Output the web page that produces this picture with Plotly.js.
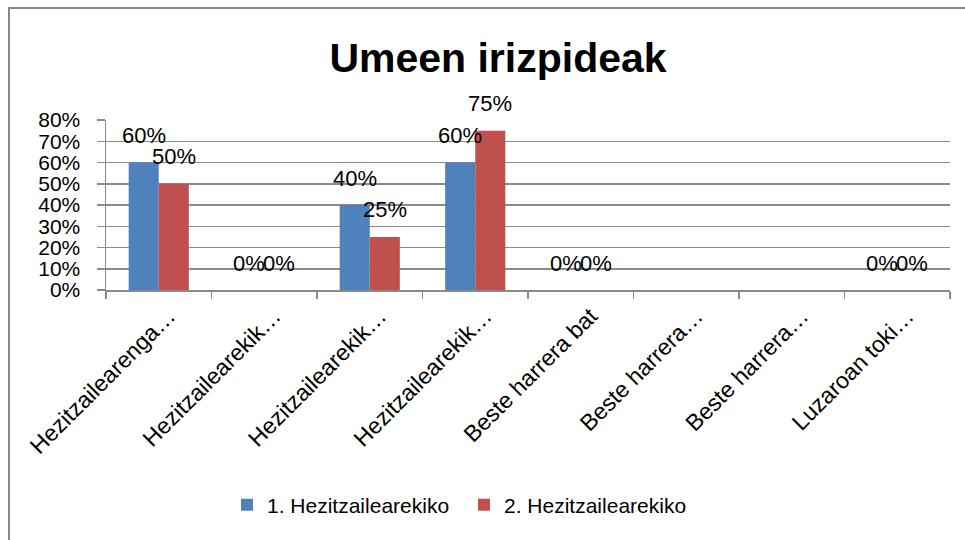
<!DOCTYPE html>
<html>
<head>
<meta charset="utf-8">
<script src="https://cdn.plot.ly/plotly-3.0.1.min.js"></script>
<style>
  html, body { margin: 0; padding: 0; background: #fff; }
  #wrap { position: relative; width: 965px; height: 540px; overflow: hidden; }
  #chart { position: absolute; left: 0; top: 0; width: 965px; height: 540px; }
  #frame { position: absolute; left: 8px; top: 7px; width: 980px; height: 560px;
           border-left: 2px solid #868686; border-top: 2px solid #868686; pointer-events: none; }
</style>
</head>
<body>
<div id="wrap">
  <div id="chart"></div>
  <div id="frame"></div>
</div>
<script>
// ---- data ----
const categories = [
  "Hezitzailearenga\u2026",
  "Hezitzailearekik\u2026",
  "Hezitzailearekik\u2026",
  "Hezitzailearekik\u2026",
  "Beste harrera bat",
  "Beste harrera\u2026",
  "Beste harrera\u2026",
  "Luzaroan toki\u2026"
];
const seriesNames = ["1. Hezitzailearekiko", "2. Hezitzailearekiko"];
const series1 = [0.60, 0, 0.40, 0.60, 0, null, null, 0];
const series2 = [0.50, 0, 0.25, 0.75, 0, null, null, 0];
const colors = ["#4F81BD", "#C0504D"];

// ---- chart ----
const FONT = "Liberation Sans, Arial, sans-serif";
const GRID = "#8a8a8a";
const idx = categories.map((_, i) => i);
const bargap = 0.43;
const half = (1 - bargap) / 4;

const traces = [series1, series2].map((vals, s) => ({
  type: "bar",
  name: seriesNames[s],
  x: idx,
  y: vals,
  marker: { color: colors[s] },
  hoverinfo: "skip"
}));

const annotations = [];
[series1, series2].forEach((vals, s) => {
  vals.forEach((v, i) => {
    if (v === null) return;
    annotations.push({
      x: i + (s === 0 ? -half : half),
      y: v,
      xref: "x", yref: "y",
      text: Math.round(v * 100) + "%",
      showarrow: false,
      xanchor: "center", yanchor: "middle",
      yshift: 27,
      font: { family: FONT, size: 22, color: "#000" }
    });
  });
});

const layout = {
  width: 965, height: 540,
  margin: { l: 106, r: 15, t: 120, b: 250 },
  paper_bgcolor: "rgba(0,0,0,0)",
  plot_bgcolor: "rgba(0,0,0,0)",
  barmode: "group",
  bargap: bargap,
  bargroupgap: 0,
  title: {
    text: "<b>Umeen irizpideak</b>",
    font: { family: FONT, size: 41, color: "#000" },
    x: 498 / 965, xanchor: "center",
    y: 1 - 58 / 540, yanchor: "middle"
  },
  xaxis: {
    range: [-0.5, 7.5],
    tickmode: "array",
    tickvals: idx,
    ticktext: categories,
    tickangle: -45,
    ticks: "",
    ticklabelshift: 10,
    ticklabelstandoff: 2,
    tickfont: { family: FONT, size: 23, color: "#000" },
    showgrid: false,
    zeroline: false,
    showline: true,
    linecolor: GRID,
    linewidth: 1.5,
    minor: {
      tickmode: "linear", tick0: -0.5, dtick: 1,
      ticks: "outside", ticklen: 7, tickwidth: 1.5, tickcolor: GRID,
      showgrid: false
    },
    fixedrange: true
  },
  yaxis: {
    range: [0, 0.8],
    dtick: 0.1,
    tickformat: ".0%",
    ticks: "outside",
    ticklen: 8,
    tickwidth: 1.5,
    tickcolor: GRID,
    ticklabelstandoff: 12,
    tickfont: { family: FONT, size: 21, color: "#000" },
    showgrid: true,
    gridcolor: GRID,
    gridwidth: 1.5,
    zeroline: false,
    showline: true,
    linecolor: GRID,
    linewidth: 1.5,
    fixedrange: true
  },
  legend: {
    orientation: "h",
    xref: "container", yref: "container",
    x: 464 / 965, xanchor: "center",
    y: 1 - 505 / 540, yanchor: "middle",
    entrywidth: 192, entrywidthmode: "pixels",
    font: { family: FONT, size: 21, color: "#000" },
    itemclick: false, itemdoubleclick: false
  },
  annotations: annotations,
  showlegend: true
};

Plotly.newPlot("chart", traces, layout, { displayModeBar: false, staticPlot: true });
</script>
</body>
</html>
